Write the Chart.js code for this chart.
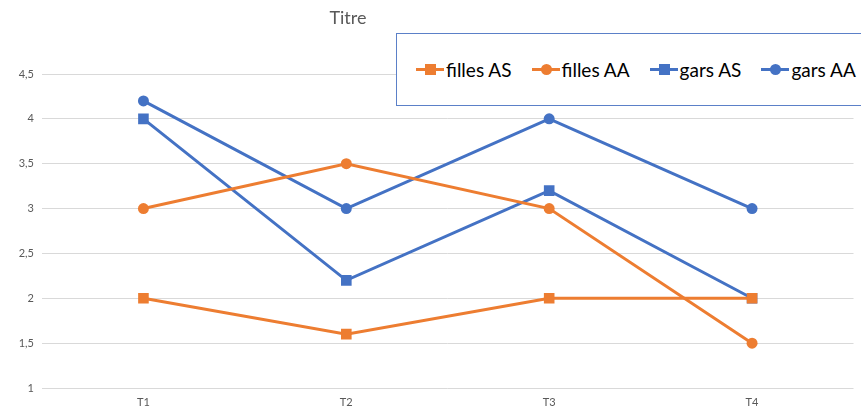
<!DOCTYPE html>
<html>
<head>
<meta charset="utf-8">
<script src="https://cdn.jsdelivr.net/npm/chart.js@4.4.1/dist/chart.umd.min.js"></script>
<style>
    body { margin: 0; background: #fff; }
    #cadre { position: relative; width: 861px; height: 410px; overflow: hidden; }
    #titre {
        position: absolute; left: 348px; top: 6px; transform: translateX(-50%);
        font-family: Lato, "Open Sans", sans-serif; font-size: 18px; color: #595959;
    }
    #legende {
        position: absolute; left: 396px; top: 33px; width: 480px; height: 73px;
        border: 1px solid #5B80C8; background: #fff; box-sizing: border-box;
        display: flex; align-items: center; padding-left: 19px; white-space: nowrap;
        font-family: Lato, "Open Sans", sans-serif; font-size: 19px; color: #000;
    }
    .item { display: flex; align-items: center; margin-right: 20px; flex: none; }
    .trait { position: relative; width: 28px; height: 3px; margin-right: 2px; flex: none; }
    .marque { position: absolute; left: 9px; top: -4px; width: 11px; height: 11px; }
</style>
</head>
<body>
<div id="cadre">
    <canvas id="chartScores" width="861" height="410"></canvas>
    <div id="titre">Titre</div>
    <div id="legende"></div>
</div>
<script>
// données
const trimestres = ["T1", "T2", "T3", "T4"];
const fillesAS = [2, 1.6, 2, 2];
const fillesAA = [3, 3.5, 3, 1.5];
const garsAS = [4, 2.2, 3.2, 2];
const garsAA = [4.2, 3, 4, 3];

const orange = "#ED7D31";
const bleu = "#4472C4";

function serie(nom, valeurs, couleur, forme) {
    return {
        label: nom,
        data: valeurs,
        borderColor: couleur,
        backgroundColor: couleur,
        borderWidth: 3,
        pointStyle: forme,
        pointRadius: forme === "rect" ? 7.5 : 5.5,
        pointBorderWidth: 0,
        tension: 0,
    };
}

const datasets = [
    serie("filles AS", fillesAS, orange, "rect"),
    serie("filles AA", fillesAA, orange, "circle"),
    serie("gars AS", garsAS, bleu, "rect"),
    serie("gars AA", garsAA, bleu, "circle"),
];

const ctx = document.getElementById("chartScores");

new Chart(ctx, {
    type: "line",
    data: { labels: trimestres, datasets: datasets },
    options: {
        responsive: false,
        animation: false,
        layout: { padding: { top: 74, right: 4, left: 0, bottom: 0 } },
        plugins: {
            legend: { display: false },
            title: { display: false },
            tooltip: { enabled: false },
        },
        scales: {
            x: {
                offset: true,
                grid: { display: false, drawTicks: false },
                border: { display: false },
                ticks: {
                    color: "#595959",
                    font: { family: "Lato, 'Open Sans', sans-serif", size: 11 },
                    padding: 8,
                },
                afterFit: (scale) => {
                    scale.height = 22;
                    scale.paddingLeft = 0;
                    scale.paddingRight = 0;
                },
            },
            y: {
                min: 1,
                max: 4.5,
                grid: { color: "#D9D9D9", lineWidth: 1, drawTicks: false },
                border: { display: false },
                ticks: {
                    stepSize: 0.5,
                    color: "#595959",
                    font: { family: "Lato, 'Open Sans', sans-serif", size: 11 },
                    padding: 8,
                    callback: (v) => String(v).replace(".", ","),
                },
                afterFit: (scale) => {
                    scale.width = 42;
                    scale.paddingTop = 0;
                    scale.paddingBottom = 0;
                },
            },
        },
    },
});

// légende en HTML, encadrée comme dans Excel
const legende = document.getElementById("legende");
datasets.forEach((ds) => {
    const item = document.createElement("div");
    item.className = "item";
    const trait = document.createElement("span");
    trait.className = "trait";
    trait.style.background = ds.borderColor;
    const marque = document.createElement("span");
    marque.className = "marque";
    marque.style.background = ds.borderColor;
    if (ds.pointStyle === "circle") marque.style.borderRadius = "50%";
    trait.appendChild(marque);
    const texte = document.createElement("span");
    texte.textContent = ds.label;
    item.appendChild(trait);
    item.appendChild(texte);
    legende.appendChild(item);
});
</script>
</body>
</html>
